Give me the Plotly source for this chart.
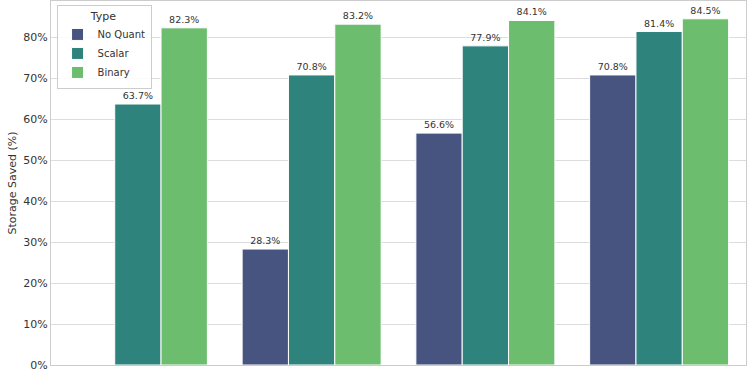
import plotly.graph_objects as go

categories = ["384", "256", "128", "64"]
types = ["No Quant", "Scalar", "Binary"]
no_quant = [0.0, 28.3, 56.6, 70.8]
scalar = [63.7, 70.8, 77.9, 81.4]
binary = [82.3, 83.2, 84.1, 84.5]
series = [no_quant, scalar, binary]
colors = ["#46547f", "#2e837d", "#6cbd6e"]

font_family = "DejaVu Sans"

fig = go.Figure()
for name, vals, col in zip(types, series, colors):
    texts = [("" if v == 0 else f"{v:.1f}%") for v in vals]
    fig.add_trace(go.Bar(
        x=categories, y=vals, name=name,
        marker=dict(color=col, line=dict(color="white", width=1)),
        text=texts, textposition="outside",
        textfont=dict(family=font_family, size=9.5, color="#333333"),
        cliponaxis=False,
        hoverinfo="skip",
    ))

fig.update_layout(
    width=750, height=375,
    margin=dict(l=51, r=4, t=1, b=10),
    paper_bgcolor="white", plot_bgcolor="white",
    barmode="group", bargap=0.2, bargroupgap=0.0,
    font=dict(family=font_family, size=11, color="#333333"),
    uniformtext=dict(minsize=9, mode="show"),
    legend=dict(
        title=dict(text="Type", side="top center", font=dict(size=11, color="#333333")),
        x=0.008, y=0.99, xanchor="left", yanchor="top",
        bgcolor="rgba(255,255,255,0.85)", bordercolor="#cccccc", borderwidth=1,
        font=dict(size=10, color="#333333"),
        itemwidth=30, tracegroupgap=0,
    ),
    showlegend=True,
)
fig.update_xaxes(
    type="category", showgrid=False, showline=True, linecolor="#cccccc", linewidth=1,
    mirror=True, ticks="", tickfont=dict(size=11, color="#333333"),
    ticklabelstandoff=9, automargin=False,
)
fig.update_yaxes(
    range=[0, 88.85], tickvals=[0, 10, 20, 30, 40, 50, 60, 70, 80],
    ticktext=["0%", "10%", "20%", "30%", "40%", "50%", "60%", "70%", "80%"],
    showgrid=True, gridcolor="#dddddd", gridwidth=1, zeroline=False,
    showline=True, linecolor="#cccccc", linewidth=1, mirror=True, ticks="",
    tickfont=dict(size=11, color="#333333"),
    title=dict(text="Storage Saved (%)", font=dict(size=11, color="#333333"), standoff=4),
    automargin=False,
)

fig.write_html("out.html", config={"displayModeBar": False},
               post_script="document.body.style.margin='0';")
